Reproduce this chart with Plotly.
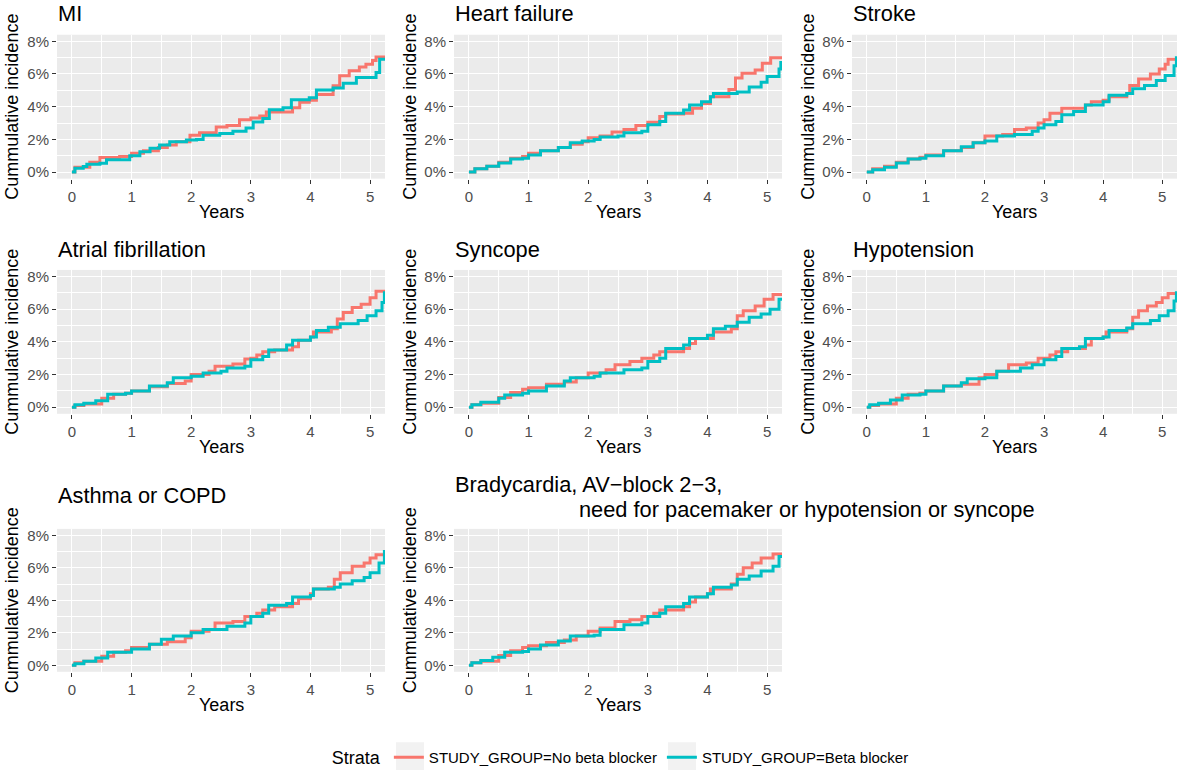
import plotly.graph_objects as go

W, H = 1180, 775

PANEL_TITLES = ["MI", "Heart failure", "Stroke", "Atrial fibrillation", "Syncope",
                "Hypotension", "Asthma or COPD",
                "Bradycardia, AV\u2212block 2\u22123,"]
BRADY_TITLE_LINE2 = "need for pacemaker or hypotension or syncope"
SERIES_NAMES = ["STUDY_GROUP=No beta blocker", "STUDY_GROUP=Beta blocker"]
SERIES_COLORS = ["#F8766D", "#00BFC4"]
X_TICKS = [0, 1, 2, 3, 4, 5]
Y_TICKS = [0, 2, 4, 6, 8]
Y_TICKTEXT = ["0%", "2%", "4%", "6%", "8%"]

# ---- cumulative incidence (%), step curves ----
MI_NO_T = [0, 0.05, 0.3, 0.47, 0.8, 1.0, 1.2, 1.45, 1.6, 1.75, 1.98, 2.14, 2.42, 2.6, 2.81, 3.0, 3.15, 3.26, 3.6, 3.7, 3.82, 3.98, 4.1, 4.38, 4.49, 4.65, 4.82, 4.93, 5.04, 5.1, 5.25]
MI_NO_V = [0, 0.3, 0.6, 0.89, 0.95, 1.15, 1.3, 1.5, 1.65, 1.85, 2.26, 2.4, 2.76, 2.85, 3.2, 3.3, 3.43, 3.67, 3.67, 3.93, 4.27, 4.4, 4.74, 5.28, 5.89, 6.19, 6.43, 6.6, 6.83, 7.04, 7.04]
MI_BB_T = [0, 0.05, 0.19, 0.25, 0.47, 0.58, 0.86, 0.97, 1.14, 1.31, 1.47, 1.64, 1.92, 2.09, 2.2, 2.48, 2.7, 2.92, 3.04, 3.2, 3.31, 3.54, 3.68, 3.98, 4.1, 4.38, 4.55, 4.77, 5.1, 5.16, 5.25]
MI_BB_V = [0, 0.24, 0.34, 0.48, 0.54, 0.75, 0.75, 1.0, 1.25, 1.45, 1.65, 1.85, 1.96, 2.0, 2.26, 2.36, 2.5, 2.7, 3.06, 3.27, 3.81, 3.93, 4.42, 4.54, 5.02, 5.14, 5.44, 5.79, 6.09, 6.9, 6.9]

HF_NO_T = [0, 0.1, 0.3, 0.5, 0.7, 0.9, 1.0, 1.2, 1.5, 1.7, 1.9, 2.0, 2.2, 2.4, 2.6, 2.8, 3.0, 3.2, 3.3, 3.6, 3.75, 3.9, 4.05, 4.36, 4.47, 4.58, 4.8, 4.92, 5.06, 5.25]
HF_NO_V = [0, 0.2, 0.35, 0.6, 0.85, 0.95, 1.15, 1.3, 1.5, 1.7, 1.85, 2.1, 2.2, 2.45, 2.6, 2.85, 3.05, 3.4, 3.55, 3.6, 3.9, 4.2, 4.6, 5.05, 5.75, 6.05, 6.25, 6.65, 7.0, 7.0]
HF_BB_T = [0, 0.1, 0.3, 0.5, 0.7, 0.9, 1.0, 1.2, 1.5, 1.7, 1.9, 2.1, 2.2, 2.5, 2.6, 2.9, 3.0, 3.2, 3.3, 3.6, 3.7, 3.9, 4.05, 4.1, 4.5, 4.7, 4.9, 5.0, 5.2, 5.23, 5.25]
HF_BB_V = [0, 0.2, 0.35, 0.55, 0.8, 0.85, 1.05, 1.3, 1.5, 1.8, 1.9, 2.0, 2.15, 2.2, 2.4, 2.5, 2.9, 3.1, 3.6, 3.8, 4.1, 4.3, 4.6, 4.8, 4.9, 5.2, 5.5, 5.85, 6.3, 6.7, 6.7]

ST_NO_T = [0, 0.1, 0.3, 0.5, 0.7, 0.9, 1.0, 1.3, 1.6, 1.8, 2.0, 2.3, 2.5, 2.7, 2.9, 3.0, 3.1, 3.3, 3.6, 3.7, 3.8, 4.0, 4.1, 4.4, 4.45, 4.6, 4.8, 4.95, 5.05, 5.1, 5.25]
ST_NO_V = [0, 0.2, 0.35, 0.6, 0.8, 0.9, 1.05, 1.3, 1.5, 1.8, 2.2, 2.3, 2.6, 2.7, 3.0, 3.2, 3.6, 3.9, 3.9, 4.1, 4.3, 4.4, 4.6, 4.8, 5.3, 5.7, 6.0, 6.3, 6.6, 6.9, 6.9]
ST_BB_T = [0, 0.1, 0.3, 0.5, 0.7, 0.9, 1.0, 1.3, 1.6, 1.8, 2.0, 2.2, 2.5, 2.8, 2.9, 3.0, 3.2, 3.3, 3.5, 3.7, 4.0, 4.1, 4.4, 4.5, 4.7, 4.9, 5.05, 5.2, 5.24, 5.25]
ST_BB_V = [0, 0.15, 0.3, 0.55, 0.8, 0.85, 1.0, 1.3, 1.55, 1.8, 1.9, 2.2, 2.3, 2.5, 2.7, 2.9, 3.1, 3.5, 3.7, 4.1, 4.3, 4.7, 4.8, 5.1, 5.3, 5.6, 5.9, 6.5, 7.0, 7.0]

AF_NO_T = [0, 0.05, 0.2, 0.5, 0.7, 0.9, 1.0, 1.3, 1.6, 1.9, 2.0, 2.3, 2.4, 2.7, 2.9, 3.0, 3.1, 3.2, 3.4, 3.7, 3.8, 4.0, 4.05, 4.35, 4.45, 4.55, 4.7, 4.85, 5.0, 5.1, 5.25]
AF_NO_V = [0, 0.1, 0.2, 0.55, 0.8, 0.85, 1.0, 1.25, 1.45, 1.6, 2.0, 2.2, 2.5, 2.65, 2.95, 3.0, 3.2, 3.4, 3.5, 3.7, 4.1, 4.3, 4.6, 4.8, 5.4, 5.8, 6.1, 6.3, 6.7, 7.1, 7.1]
AF_BB_T = [0, 0.05, 0.2, 0.4, 0.6, 0.9, 1.0, 1.3, 1.6, 1.7, 2.0, 2.2, 2.5, 2.6, 2.9, 3.0, 3.2, 3.3, 3.6, 3.7, 4.0, 4.1, 4.3, 4.5, 4.8, 4.95, 5.1, 5.2, 5.24, 5.25]
AF_BB_V = [0, 0.15, 0.25, 0.4, 0.8, 0.85, 1.0, 1.3, 1.5, 1.8, 1.9, 2.1, 2.2, 2.4, 2.5, 2.9, 3.1, 3.5, 3.8, 4.1, 4.3, 4.7, 4.9, 5.1, 5.3, 5.6, 5.9, 6.4, 7.0, 7.0]

SY_NO_T = [0, 0.05, 0.2, 0.5, 0.7, 0.9, 1.0, 1.3, 1.6, 1.8, 2.0, 2.3, 2.45, 2.7, 2.9, 3.1, 3.2, 3.6, 3.7, 3.8, 4.1, 4.4, 4.5, 4.6, 4.8, 4.95, 5.1, 5.25]
SY_NO_V = [0, 0.15, 0.25, 0.6, 0.9, 1.1, 1.2, 1.4, 1.55, 1.8, 2.1, 2.3, 2.6, 2.8, 3.0, 3.2, 3.4, 3.6, 3.9, 4.2, 4.6, 4.8, 5.6, 5.9, 6.2, 6.6, 6.9, 6.9]
SY_BB_T = [0, 0.05, 0.2, 0.5, 0.6, 0.9, 1.0, 1.3, 1.6, 1.7, 2.1, 2.2, 2.5, 2.6, 2.9, 3.0, 3.2, 3.3, 3.6, 3.7, 4.0, 4.1, 4.3, 4.5, 4.7, 4.9, 5.05, 5.2, 5.25]
SY_BB_V = [0, 0.15, 0.3, 0.55, 0.75, 0.85, 1.0, 1.3, 1.6, 1.8, 1.9, 2.1, 2.1, 2.3, 2.4, 2.8, 3.0, 3.6, 3.8, 4.2, 4.4, 4.8, 4.95, 5.2, 5.5, 5.7, 6.0, 6.6, 6.7]

HY_NO_T = [0, 0.05, 0.2, 0.5, 0.7, 0.9, 1.0, 1.3, 1.6, 1.9, 2.0, 2.2, 2.4, 2.7, 2.9, 3.1, 3.2, 3.4, 3.7, 3.8, 4.0, 4.05, 4.4, 4.5, 4.6, 4.75, 4.9, 5.0, 5.1, 5.25]
HY_NO_V = [0, 0.1, 0.2, 0.55, 0.8, 0.85, 1.0, 1.3, 1.4, 1.8, 2.0, 2.2, 2.6, 2.7, 3.0, 3.2, 3.4, 3.6, 3.8, 4.2, 4.3, 4.6, 4.8, 5.5, 5.9, 6.2, 6.4, 6.7, 6.95, 6.95]
HY_BB_T = [0, 0.05, 0.2, 0.4, 0.6, 0.9, 1.0, 1.3, 1.6, 1.7, 2.0, 2.2, 2.5, 2.6, 2.8, 3.0, 3.2, 3.3, 3.6, 3.7, 4.0, 4.1, 4.4, 4.5, 4.8, 4.95, 5.1, 5.2, 5.24, 5.25]
HY_BB_V = [0, 0.15, 0.25, 0.45, 0.75, 0.8, 1.0, 1.3, 1.5, 1.75, 1.8, 2.2, 2.2, 2.4, 2.6, 2.9, 3.1, 3.6, 3.7, 4.2, 4.3, 4.7, 4.85, 5.1, 5.3, 5.6, 5.9, 6.5, 7.0, 7.0]

AS_NO_T = [0, 0.05, 0.2, 0.5, 0.7, 0.9, 1.0, 1.3, 1.6, 1.9, 2.0, 2.3, 2.4, 2.7, 2.9, 3.1, 3.2, 3.4, 3.7, 3.8, 4.0, 4.05, 4.3, 4.4, 4.5, 4.7, 4.9, 5.0, 5.1, 5.25]
AS_NO_V = [0, 0.15, 0.25, 0.55, 0.8, 0.9, 1.1, 1.3, 1.45, 1.7, 2.1, 2.2, 2.6, 2.7, 3.0, 3.2, 3.4, 3.6, 3.8, 4.1, 4.4, 4.7, 4.8, 5.3, 5.7, 6.1, 6.3, 6.6, 6.8, 6.8]
AS_BB_T = [0, 0.05, 0.2, 0.4, 0.6, 0.9, 1.0, 1.3, 1.5, 1.7, 2.0, 2.2, 2.5, 2.6, 2.9, 3.0, 3.2, 3.3, 3.6, 3.7, 4.0, 4.05, 4.4, 4.5, 4.7, 4.9, 5.0, 5.15, 5.24, 5.25]
AS_BB_V = [0, 0.1, 0.25, 0.45, 0.8, 0.8, 1.0, 1.3, 1.6, 1.8, 2.0, 2.2, 2.2, 2.4, 2.6, 3.0, 3.2, 3.7, 3.8, 4.2, 4.3, 4.7, 4.8, 5.0, 5.2, 5.4, 5.7, 6.3, 7.0, 7.0]

BR_NO_T = [0, 0.05, 0.2, 0.5, 0.7, 0.9, 1.0, 1.3, 1.6, 1.8, 2.0, 2.2, 2.45, 2.7, 2.9, 3.1, 3.2, 3.6, 3.7, 3.8, 4.0, 4.05, 4.4, 4.5, 4.6, 4.75, 4.9, 5.1, 5.25]
BR_NO_V = [0, 0.15, 0.25, 0.6, 0.9, 1.1, 1.2, 1.4, 1.55, 1.8, 2.1, 2.3, 2.7, 2.8, 3.0, 3.2, 3.4, 3.6, 3.9, 4.2, 4.4, 4.7, 5.0, 5.6, 6.0, 6.3, 6.6, 6.85, 6.85]
BR_BB_T = [0, 0.05, 0.2, 0.4, 0.6, 0.9, 1.0, 1.2, 1.5, 1.7, 2.1, 2.2, 2.5, 2.6, 2.9, 3.0, 3.2, 3.3, 3.6, 3.7, 4.0, 4.1, 4.4, 4.5, 4.7, 4.9, 5.1, 5.2, 5.25]
BR_BB_V = [0, 0.15, 0.3, 0.5, 0.8, 0.85, 1.0, 1.25, 1.5, 1.8, 1.85, 2.2, 2.2, 2.5, 2.6, 3.0, 3.2, 3.6, 3.8, 4.2, 4.4, 4.8, 4.95, 5.3, 5.5, 5.8, 6.1, 6.7, 6.7]

PANEL_DATA = [
    (MI_NO_T, MI_NO_V, MI_BB_T, MI_BB_V),
    (HF_NO_T, HF_NO_V, HF_BB_T, HF_BB_V),
    (ST_NO_T, ST_NO_V, ST_BB_T, ST_BB_V),
    (AF_NO_T, AF_NO_V, AF_BB_T, AF_BB_V),
    (SY_NO_T, SY_NO_V, SY_BB_T, SY_BB_V),
    (HY_NO_T, HY_NO_V, HY_BB_T, HY_BB_V),
    (AS_NO_T, AS_NO_V, AS_BB_T, AS_BB_V),
    (BR_NO_T, BR_NO_V, BR_BB_T, BR_BB_V),
]

# ---- layout (pixels) ----
COLS = [(57, 385), (454, 782), (852, 1177)]
ROWS = [(33, 178), (270, 415), (531, 675)]
TITLE_Y = [12, 249, 497]
XTITLE_Y = [212, 448, 708]
YTITLE_X = [12, 410, 808]
LEGEND_KEY_BOXES = [(396, 424), (668, 696)]

FONT = "Liberation Sans, Arial, sans-serif"


def px_x(p):
    return p / W


def px_y(p):
    return 1 - p / H


fig = go.Figure()
annotations = []
layout_axes = {}

for i, (title, data) in enumerate(zip(PANEL_TITLES, PANEL_DATA)):
    r, c = divmod(i, 3)
    k = i + 1
    xa = "x" if k == 1 else f"x{k}"
    ya = "y" if k == 1 else f"y{k}"
    x0, x1 = COLS[c]
    y0, y1 = ROWS[r]
    layout_axes["xaxis" if k == 1 else f"xaxis{k}"] = dict(
        domain=[px_x(x0), px_x(x1)], anchor=ya, range=[-0.25, 5.25],
        tickvals=X_TICKS, ticks="outside", ticklen=4, tickwidth=1.1, tickcolor="#333333",
        tickfont=dict(size=15, color="#4D4D4D", family=FONT),
        showgrid=True, gridcolor="white", gridwidth=1.3, zeroline=False, showline=False,
        minor=dict(dtick=0.5, tick0=0, showgrid=True, gridcolor="white", gridwidth=0.6, ticks=""),
        fixedrange=True,
    )
    layout_axes["yaxis" if k == 1 else f"yaxis{k}"] = dict(
        domain=[px_y(y1), px_y(y0)], anchor=xa, range=[-0.4, 8.4],
        tickvals=Y_TICKS, ticktext=Y_TICKTEXT, ticks="outside", ticklen=4, tickwidth=1.1,
        tickcolor="#333333", tickfont=dict(size=15, color="#4D4D4D", family=FONT),
        showgrid=True, gridcolor="white", gridwidth=1.3, zeroline=False, showline=False,
        minor=dict(dtick=1, tick0=0, showgrid=True, gridcolor="white", gridwidth=0.6, ticks=""),
        fixedrange=True,
    )
    t_no, v_no, t_bb, v_bb = data
    for j, (tt, vv) in enumerate([(t_no, v_no), (t_bb, v_bb)]):
        fig.add_trace(go.Scatter(
            x=tt, y=vv, mode="lines", line=dict(color=SERIES_COLORS[j], width=3, shape="hv"),
            name=SERIES_NAMES[j], legendgroup=SERIES_NAMES[j], showlegend=(i == 0),
            xaxis=xa, yaxis=ya,
        ))
    # panel title
    annotations.append(dict(text=title, x=px_x(x0 - 1), y=px_y(TITLE_Y[r] if i != 7 else 486),
                            xref="paper", yref="paper", xanchor="left", yanchor="middle",
                            showarrow=False, font=dict(size=21.8, color="black", family=FONT)))
    # x axis title
    annotations.append(dict(text="Years", x=px_x((x0 + x1) / 2), y=px_y(XTITLE_Y[r]),
                            xref="paper", yref="paper", xanchor="center", yanchor="middle",
                            showarrow=False, font=dict(size=18, color="black", family=FONT)))
    # y axis title
    annotations.append(dict(text="Cummulative incidence", x=px_x(YTITLE_X[c]), y=px_y((y0 + y1) / 2),
                            xref="paper", yref="paper", xanchor="center", yanchor="middle",
                            textangle=-90, showarrow=False,
                            font=dict(size=18, color="black", family=FONT)))

annotations.append(dict(text=BRADY_TITLE_LINE2, x=px_x(577), y=px_y(511),
                        xref="paper", yref="paper", xanchor="left", yanchor="middle",
                        showarrow=False, font=dict(size=21.8, color="black", family=FONT)))

shapes = [dict(type="rect", xref="paper", yref="paper", x0=px_x(a), x1=px_x(b),
               y0=px_y(774), y1=px_y(746), fillcolor="#F2F2F2", line=dict(width=0), layer="below")
          for a, b in LEGEND_KEY_BOXES]

fig.update_layout(
    width=W, height=H, margin=dict(l=0, r=0, t=0, b=0),
    paper_bgcolor="white", plot_bgcolor="#EBEBEB",
    font=dict(family=FONT),
    annotations=annotations,
    shapes=shapes,
    showlegend=True,
    legend=dict(orientation="h", x=0.527, xanchor="center", y=px_y(762), yanchor="middle",
                title=dict(text="Strata", side="left", font=dict(size=18, color="black")),
                font=dict(size=15, color="black"), itemwidth=30, bgcolor="rgba(0,0,0,0)"),
    **layout_axes,
)

fig.write_html("out.html")
